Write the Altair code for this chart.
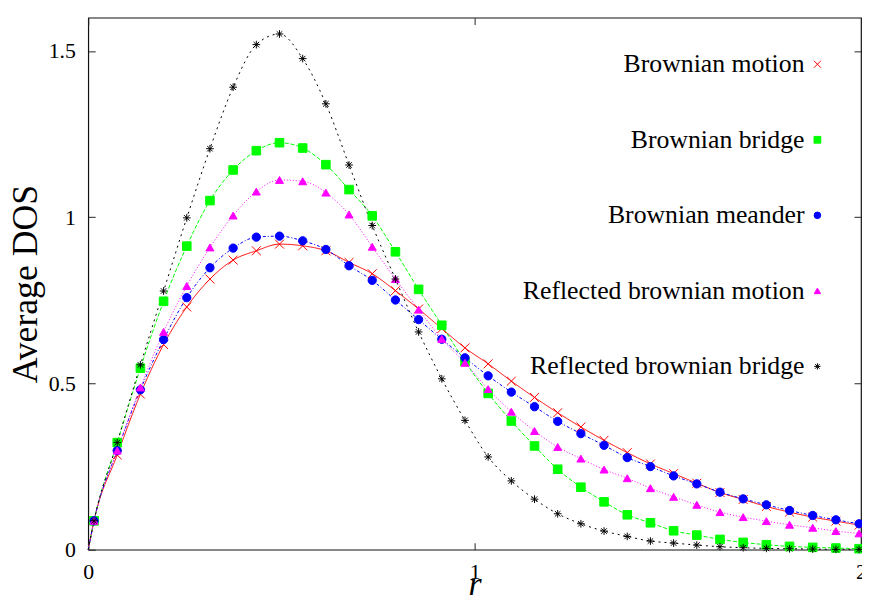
import altair as alt
import pandas as pd

R = [0.015, 0.075, 0.135, 0.195, 0.255, 0.315, 0.375, 0.435, 0.495, 0.555,
     0.615, 0.675, 0.735, 0.795, 0.855, 0.915, 0.975, 1.035, 1.095, 1.155,
     1.215, 1.275, 1.335, 1.395, 1.455, 1.515, 1.575, 1.635, 1.695, 1.755,
     1.815, 1.875, 1.935, 1.995]

BM = [0.087, 0.285, 0.468, 0.617, 0.730, 0.814, 0.871, 0.899, 0.919, 0.914,
      0.899, 0.864, 0.830, 0.779, 0.724, 0.665, 0.607, 0.559, 0.507, 0.458,
      0.412, 0.369, 0.329, 0.292, 0.258, 0.229, 0.200, 0.172, 0.151, 0.130,
      0.113, 0.098, 0.086, 0.074]
BB = [0.087, 0.322, 0.546, 0.747, 0.913, 1.050, 1.142, 1.200, 1.224, 1.208,
      1.158, 1.083, 1.004, 0.896, 0.783, 0.675, 0.566, 0.470, 0.387, 0.312,
      0.242, 0.188, 0.144, 0.105, 0.081, 0.057, 0.044, 0.031, 0.022, 0.015,
      0.010, 0.007, 0.005, 0.003]
BMe = [0.087, 0.298, 0.481, 0.632, 0.758, 0.848, 0.907, 0.940, 0.943, 0.929,
       0.903, 0.854, 0.810, 0.751, 0.692, 0.633, 0.577, 0.523, 0.474, 0.430,
       0.386, 0.349, 0.314, 0.277, 0.250, 0.222, 0.198, 0.173, 0.153, 0.135,
       0.118, 0.103, 0.090, 0.078]
RBM = [0.087, 0.298, 0.488, 0.655, 0.793, 0.909, 1.005, 1.077, 1.112, 1.108,
       1.074, 1.008, 0.911, 0.814, 0.722, 0.634, 0.562, 0.483, 0.415, 0.357,
       0.309, 0.274, 0.241, 0.215, 0.185, 0.159, 0.135, 0.113, 0.098, 0.086,
       0.075, 0.066, 0.056, 0.049]
RBB = [0.087, 0.322, 0.556, 0.778, 0.998, 1.206, 1.391, 1.519, 1.551, 1.477,
       1.341, 1.157, 0.975, 0.814, 0.655, 0.514, 0.389, 0.279, 0.207, 0.152,
       0.108, 0.078, 0.056, 0.040, 0.026, 0.020, 0.014, 0.009, 0.006, 0.004,
       0.003, 0.002, 0.001, 0.001]

# the curves start at the origin
CURVE_START_R = [0.0]
CURVE_START_DOS = [0.0]

SERIES = ["Brownian motion", "Brownian bridge", "Brownian meander",
          "Reflected brownian motion", "Reflected brownian bridge"]
VALUES = [BM, BB, BMe, RBM, RBB]

X_TICKS = [0, 1, 2]
Y_TICKS = [0, 0.5, 1, 1.5]

# styles
COLORS = ["#ff0000", "#00ff00", "#0000ff", "#ff00ff", "#000000"]
DASHES = [[1, 0], [4, 2], [3, 2, 1, 2], [1, 2], [2, 4]]
X_PATH = "M-1,-1L1,1M-1,1L1,-1"
STAR_PATH = "M-1,0L1,0M0,-1L0,1M-0.72,-0.72L0.72,0.72M-0.72,0.72L0.72,-0.72"
SHAPES = [X_PATH, "square", "circle", "triangle-up", STAR_PATH]
SIZES = [80, 60, 68, 76, 170]
STROKES = [1, 1, 1, 1, 1.6]
LEGEND_SIZES = [49, 40, 44, 49, 72]

pt_rows, ln_rows = [], []
for name, vals in zip(SERIES, VALUES):
    for r, v in zip(CURVE_START_R, CURVE_START_DOS):
        ln_rows.append({"series": name, "r": r, "dos": v})
    for r, v in zip(R, vals):
        pt_rows.append({"series": name, "r": r, "dos": v})
        ln_rows.append({"series": name, "r": r, "dos": v})
points = pd.DataFrame(pt_rows)
curves = pd.DataFrame(ln_rows)
legend_df = pd.DataFrame({"series": SERIES})

FONT = "'Liberation Serif', 'DejaVu Serif', serif"
W, H = 780, 537

xscale = alt.Scale(domain=[0, 2], nice=False, zero=False)
yscale = alt.Scale(domain=[0, 1.6], nice=False, zero=False)
color_scale = alt.Scale(domain=SERIES, range=COLORS)
inward = {"expr": "-7"}

x_bottom = alt.Axis(orient="bottom", values=X_TICKS, format="~g", title="r",
                    tickSize=inward, tickColor="#222", tickWidth=1,
                    labelPadding=19, labelFlush=False, domain=False, grid=False,
                    labelFont=FONT, labelFontSize=22, labelColor="black",
                    titleFont=FONT, titleFontSize=34, titleFontStyle="italic",
                    titleFontWeight="normal", titleColor="black",
                    titleX=W / 2, titleY=45, titleBaseline="alphabetic")
y_left = alt.Axis(orient="left", values=Y_TICKS, format="~g", title="Average DOS",
                  tickSize=inward, tickColor="#222", tickWidth=1,
                  labelPadding=20, labelFlush=False, domain=False, grid=False,
                  labelFont=FONT, labelFontSize=22, labelColor="black",
                  titleFont=FONT, titleFontSize=36, titleFontWeight="normal",
                  titleColor="black", titleAngle=270, titleX=-52, titleY=H / 2,
                  titleAlign="center", titleBaseline="alphabetic")
x_top = alt.Axis(orient="top", values=X_TICKS, labels=False, title=None,
                 tickSize=inward, tickColor="#222", tickWidth=1,
                 domain=False, grid=False)
y_right = alt.Axis(orient="right", values=Y_TICKS, labels=False, title=None,
                   tickSize=inward, tickColor="#222", tickWidth=1,
                   domain=False, grid=False)

lines = alt.Chart(curves).mark_line(strokeWidth=1, interpolate="monotone").encode(
    x=alt.X("r:Q", scale=xscale, axis=x_bottom),
    y=alt.Y("dos:Q", scale=yscale, axis=y_left),
    color=alt.Color("series:N", scale=color_scale, legend=None),
    strokeDash=alt.StrokeDash("series:N", scale=alt.Scale(domain=SERIES, range=DASHES), legend=None),
    detail="series:N",
)

marks = alt.Chart(points).mark_point(filled=True, opacity=1).encode(
    x=alt.X("r:Q", scale=xscale, axis=x_top),
    y=alt.Y("dos:Q", scale=yscale, axis=y_right),
    fill=alt.Fill("series:N", scale=color_scale, legend=None),
    stroke=alt.Stroke("series:N", scale=color_scale, legend=None),
    shape=alt.Shape("series:N", scale=alt.Scale(domain=SERIES, range=SHAPES), legend=None),
    size=alt.Size("series:N", scale=alt.Scale(domain=SERIES, range=SIZES), legend=None),
    strokeWidth=alt.StrokeWidth("series:N", scale=alt.Scale(domain=SERIES, range=STROKES), legend=None),
)

# key (drawn as a guide in the upper right of the plot)
key_y = alt.Y("series:N", axis=None,
              scale=alt.Scale(type="point", domain=SERIES, range=[47, 352], padding=0))

key_text = alt.Chart(legend_df).mark_text(
    align="right", baseline="middle", font=FONT, fontSize=26, color="black"
).encode(x=alt.value(723), y=key_y, text="series:N")

key_sym = alt.Chart(legend_df).mark_point(filled=True, opacity=1, strokeWidth=1).encode(
    x=alt.value(736), y=key_y,
    fill=alt.Fill("series:N", scale=color_scale, legend=None),
    stroke=alt.Stroke("series:N", scale=color_scale, legend=None),
    shape=alt.Shape("series:N", scale=alt.Scale(domain=SERIES, range=SHAPES), legend=None),
    size=alt.Size("series:N", scale=alt.Scale(domain=SERIES, range=LEGEND_SIZES), legend=None),
)

chart = alt.layer(lines, marks, key_text, key_sym).resolve_scale(
    y="independent", size="independent"
).resolve_axis(
    x="independent", y="independent"
).properties(
    width=W, height=H,
    autosize=alt.AutoSizeParams(type="none"),
    padding={"left": 81, "top": 7, "right": 1, "bottom": 50},
    background="white",
).configure_view(stroke="#111", strokeWidth=1.2)

chart.save("out.html", embed_options={"renderer": "svg", "actions": False})
